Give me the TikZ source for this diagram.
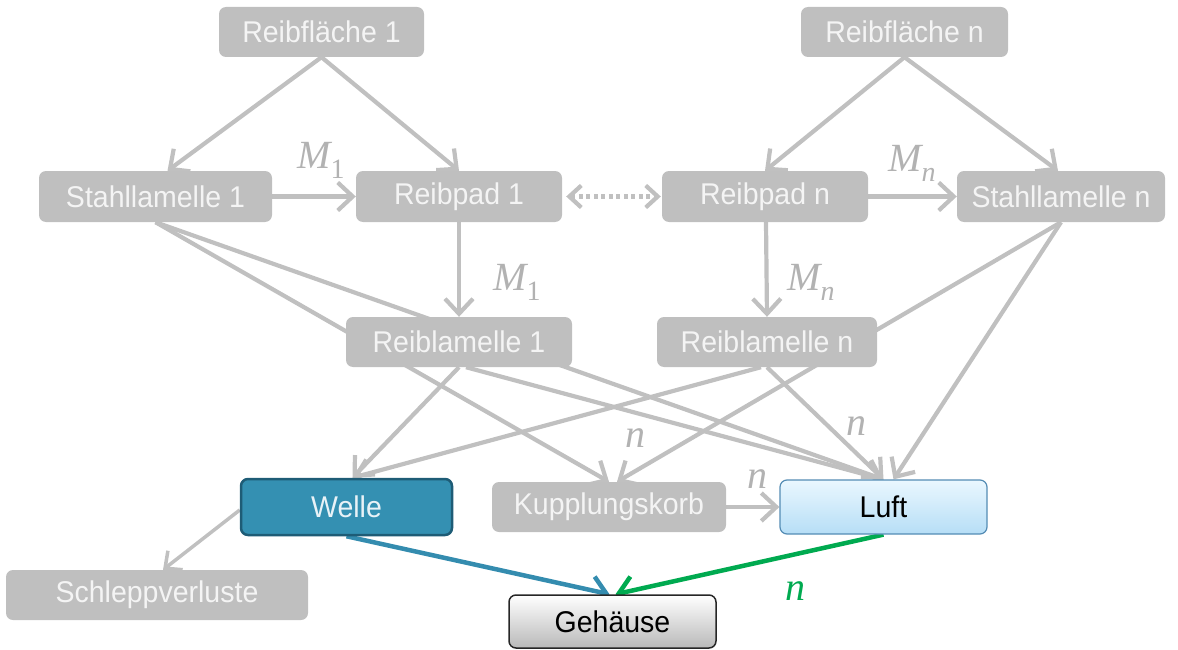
\documentclass[tikz,border=0pt]{standalone}
\usepackage{fontspec}
\setmainfont{Liberation Sans}[FakeStretch=0.95]
\newfontfamily\lblfont{Liberation Serif}
\usetikzlibrary{arrows.meta,calc}
\pgfdeclarelayer{bg}
\pgfsetlayers{bg,main}

\definecolor{boxgray}{RGB}{191,191,191}
\definecolor{linegray}{RGB}{192,192,192}
\definecolor{labelgray}{RGB}{178,178,178}
\definecolor{boxtext}{RGB}{244,244,244}
\definecolor{wellefill}{RGB}{52,144,178}
\definecolor{welledraw}{RGB}{30,92,118}
\definecolor{welletext}{RGB}{232,242,247}
\definecolor{bluearrow}{RGB}{52,140,175}
\definecolor{greenarrow}{RGB}{0,170,80}
\definecolor{luftdraw}{RGB}{84,140,180}
\definecolor{lufttop}{RGB}{234,247,255}
\definecolor{luftbot}{RGB}{182,222,246}
\definecolor{gehbot}{RGB}{185,185,185}

% italic symbol with an optional upright subscript
\newcommand{\symb}[2]{{\itshape #1}\raisebox{-10pt}{\fontsize{28}{30}\selectfont #2}}

\begin{document}
\begin{tikzpicture}[x=1pt,y=-1pt,
  box/.style={rounded corners=7pt, minimum height=50pt, inner sep=0pt,
    font=\fontsize{30}{34}\selectfont},
  graybox/.style={box, fill=boxgray, text=boxtext},
  conn/.style={draw=linegray, line width=4.2pt, -{Straight Barb[length=15pt,width=28pt]}},
  bigconn/.style={line width=4.5pt, -{Straight Barb[length=15pt,width=28pt]}},
  lbl/.style={text=labelgray, inner sep=0pt, font=\lblfont\fontsize{40}{44}\selectfont},
]
\useasboundingbox (0,0) rectangle (1178,650);

% top row
\node[graybox, minimum width=205pt] (rf1) at (321.5,32) {Reibfläche 1};
\node[graybox, minimum width=207pt] (rfn) at (904.5,32) {Reibfläche n};

% second row
\node[graybox, minimum width=233pt, minimum height=51pt] (sl1) at (155.5,196.5) {Stahllamelle 1};
\node[graybox, minimum width=206pt, minimum height=51pt] (rp1) at (459,196.5) {Reibpad 1};
\node[graybox, minimum width=206pt, minimum height=51pt] (rpn) at (765,196.5) {Reibpad n};
\node[graybox, minimum width=208pt, minimum height=51pt] (sln) at (1061,196.5) {Stahllamelle n};

% third row
\node[graybox, minimum width=226pt] (rl1) at (459,342) {Reiblamelle 1};
\node[graybox, minimum width=220pt] (rln) at (767,342) {Reiblamelle n};

% fourth row
\node[box, minimum width=211pt, minimum height=56pt, fill=wellefill, draw=welledraw,
  line width=2.5pt, text=welletext] (we) at (346.5,507) {Welle};
\node[graybox, minimum width=234pt] (kk) at (609,507) {Kupplungskorb};
\node[box, minimum width=207pt, minimum height=54pt, top color=lufttop, bottom color=luftbot,
  draw=luftdraw, line width=1.2pt, text=black] (lu) at (883.5,507) {Luft};

% bottom row
\node[graybox, minimum width=302pt] (sv) at (157,595) {Schleppverluste};
\node[box, minimum width=207pt, minimum height=53pt, top color=white, bottom color=gehbot,
  draw=black!85, line width=1.5pt, text=black] (ge) at (612.5,621.5) {Gehäuse};

% labels
\node[lbl] (m1a) at (321,160) {\symb{M}{1}};
\node[lbl] (mna) at (912,163) {\symb{M}{\itshape n}};
\node[lbl] (m1b) at (517,282) {\symb{M}{1}};
\node[lbl] (mnb) at (811,282) {\symb{M}{\itshape n}};
\node[lbl] (n1) at (635,438) {\itshape n};
\node[lbl] (n2) at (856,426) {\itshape n};
\node[lbl] (n3) at (757,479) {\itshape n};
\node[lbl, text=greenarrow] (n4) at (795,591) {\itshape n};

\begin{pgfonlayer}{bg}
  % friction surfaces
  \draw[conn] (rf1.south) -- ([xshift=12pt]sl1.north);
  \draw[conn] (rf1.south) -- (rp1.north);
  \draw[conn] (rfn.south) -- (rpn.north);
  \draw[conn] (rfn.south) -- ([xshift=-3pt]sln.north);
  % torque paths
  \draw[conn] (sl1.east) -- (rp1.west);
  \draw[conn] (rpn.east) -- (sln.west);
  \draw[draw=linegray, line width=4.2pt, dash pattern=on 4pt off 3.5pt,
    shorten <=4pt, shorten >=1pt,
    {Straight Barb[length=12pt,width=22pt]}-{Straight Barb[length=12pt,width=22pt]}]
    (rp1.east) -- (rpn.west);
  \draw[conn] (rp1.south) -- (rl1.north);
  \draw[conn] ([xshift=1pt]rpn.south) -- (rln.north);
  % heat flows
  \draw[conn] (sl1.south) -- (kk.north);
  \draw[conn] (sl1.south) -- (lu.north);
  \draw[conn] (rl1.south) -- ([xshift=6pt]we.north);
  \draw[conn] ([xshift=7pt]rl1.south) -- (lu.north);
  \draw[conn] ([xshift=-6pt]rln.south) -- ([xshift=6pt]we.north);
  \draw[conn] (rln.south) -- (lu.north);
  \draw[conn] (sln.south) -- ([xshift=8pt]kk.north);
  \draw[conn] (sln.south) -- ([xshift=10pt]lu.north);
  \draw[conn] (kk.east) -- (lu.west);
  \draw[draw=linegray, line width=3.5pt, -{Straight Barb[length=13pt,width=24pt]}]
    ([yshift=-3pt]we.west) -- ([xshift=6pt]sv.north);
  % to housing
  \draw[bigconn, draw=bluearrow] (we.south) -- ([xshift=-3pt]ge.north);
  \draw[bigconn, draw=greenarrow] (lu.south) -- ([xshift=3pt]ge.north);
\end{pgfonlayer}
\end{tikzpicture}
\end{document}
